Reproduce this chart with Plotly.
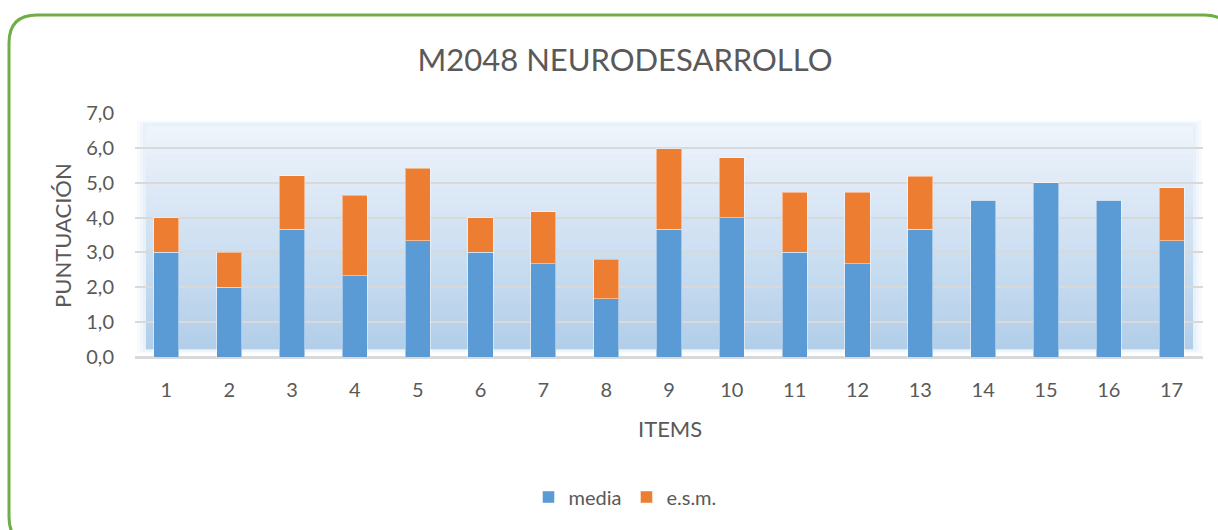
import plotly.graph_objects as go

items = [str(i) for i in range(1, 18)]
media = [3.0, 2.0, 3.67, 2.33, 3.33, 3.0, 2.67, 1.67, 3.67, 4.0, 3.0, 2.67, 3.67, 4.5, 5.0, 4.5, 3.33]
esm = [1.0, 1.0, 1.53, 2.31, 2.08, 1.0, 1.5, 1.13, 2.3, 1.71, 1.72, 2.05, 1.52, 0.0, 0.0, 0.0, 1.53]

W, H = 1218, 530
L, R, T, B = 135, 15, 113, 173
pw, ph = W - L - R, H - T - B

def px(x):
    return (x - L) / pw

def py(y):
    return (H - B - y) / ph

BLUE = "#5b9bd5"
ORANGE = "#ed7d31"
TXT = "#595959"
FONT = "Lato, 'Open Sans', sans-serif"

fig = go.Figure()
fig.add_trace(go.Bar(x=items, y=media, name="media", marker=dict(color=BLUE, line=dict(color="rgba(255,255,255,0.45)", width=1))))
fig.add_trace(go.Bar(x=items, y=esm, name="e.s.m.", marker=dict(color=ORANGE, line=dict(color="rgba(255,255,255,0.45)", width=1))))

shapes = []
# soft glow around the gradient panel
for k, a in enumerate([0.10, 0.12, 0.15]):
    d = (3 - k) * 3
    shapes.append(dict(type="rect", xref="paper", yref="paper", x0=px(146 - d), x1=px(1193 + d),
                       y0=py(349 + d / 2), y1=py(125 - d / 2), fillcolor="rgba(190,214,238,%.2f)" % a,
                       line=dict(width=0), layer="below"))
# gradient background strips (each extends to the top so there are no seams)
n = 40
top_c = (238, 244, 251)
bot_c = (178, 206, 233)
y0g, y1g = 0.22, 6.62
for i in range(n):
    f = i / (n - 1)
    c = tuple(int(round(bot_c[k] + (top_c[k] - bot_c[k]) * f)) for k in range(3))
    ya = y0g + (y1g - y0g) * i / n
    shapes.append(dict(type="rect", xref="paper", yref="y", x0=px(146), x1=px(1193), y0=ya, y1=y1g,
                       fillcolor="rgb(%d,%d,%d)" % c, line=dict(width=0), layer="below"))

# green rounded border
x0b, y0b, x1b, y1b, r = 9, 15, 1232, 545, 28
path = (f"M {px(x0b)},{py(y1b - r)} L {px(x0b)},{py(y0b + r)} "
        f"Q {px(x0b)},{py(y0b)} {px(x0b + r)},{py(y0b)} "
        f"L {px(x1b - r)},{py(y0b)} Q {px(x1b)},{py(y0b)} {px(x1b)},{py(y0b + r)} "
        f"L {px(x1b)},{py(y1b - r)} Q {px(x1b)},{py(y1b)} {px(x1b - r)},{py(y1b)} "
        f"L {px(x0b + r)},{py(y1b)} Q {px(x0b)},{py(y1b)} {px(x0b)},{py(y1b - r)} Z")
shapes.append(dict(type="path", xref="paper", yref="paper", path=path,
                   line=dict(color="#70ad47", width=3), fillcolor="rgba(0,0,0,0)"))

annotations = [
    dict(text="ITEMS", xref="paper", yref="paper", x=px(670), y=py(428), showarrow=False,
         font=dict(family=FONT, size=22, color=TXT), xanchor="center", yanchor="middle"),
    dict(text="PUNTUACIÓN", xref="paper", yref="paper", x=px(62), y=py(236), showarrow=False,
         textangle=-90, font=dict(family=FONT, size=22, color=TXT), xanchor="center", yanchor="middle"),
]

fig.update_layout(
    width=W, height=H,
    margin=dict(l=L, r=R, t=T, b=B),
    barmode="stack",
    bargap=0.6,
    separators=",.",
    paper_bgcolor="white",
    plot_bgcolor="rgba(0,0,0,0)",
    font=dict(family=FONT, color=TXT),
    title=dict(text="M2048 NEURODESARROLLO", x=625 / W, y=1 - 60 / H, xanchor="center", yanchor="middle",
               xref="container", yref="container", font=dict(family=FONT, size=31, color=TXT)),
    xaxis=dict(type="category", showgrid=False, showline=True, linecolor="#d9d9d9", linewidth=2,
               ticks="", tickfont=dict(family=FONT, size=20, color=TXT), ticklabelstandoff=14),
    yaxis=dict(range=[0, 7], dtick=1, tickformat=".1f", showgrid=True, gridcolor="#d9d9d9", gridwidth=2,
               zeroline=True, zerolinecolor="#d9d9d9", zerolinewidth=2, showline=False, ticks="",
               tickfont=dict(family=FONT, size=20, color=TXT), ticklabelstandoff=20),
    legend=dict(orientation="h", x=px(625), y=py(497), xanchor="center", yanchor="middle",
                font=dict(family=FONT, size=20, color=TXT), itemwidth=30, traceorder="normal"),
    shapes=shapes,
    annotations=annotations,
)

fig.write_html("out.html", config={"displayModeBar": False},
               post_script="document.body.style.margin='0';document.body.style.padding='0';")
